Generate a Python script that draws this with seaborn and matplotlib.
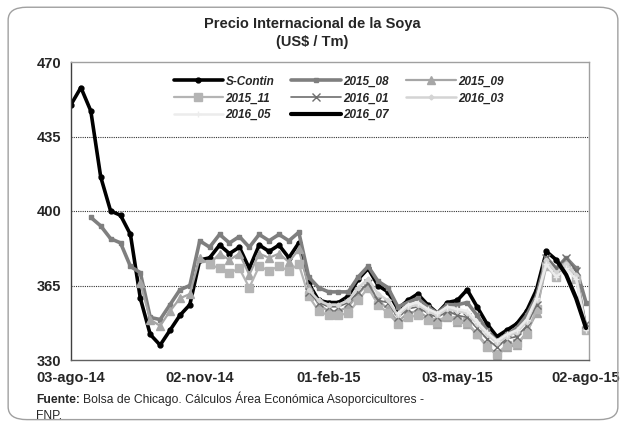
import numpy as np
import pandas as pd
import matplotlib
matplotlib.use("Agg")
import matplotlib.pyplot as plt
import seaborn as sns
from matplotlib.patches import FancyBboxPatch

sns.set_theme(style="white")
plt.rcParams['font.family'] = ['Liberation Sans', 'DejaVu Sans']

nan = np.nan
weeks = list(range(53))
tick_weeks = [0, 13, 26, 39, 52]
tick_labels = ["03-ago-14", "02-nov-14", "01-feb-15", "03-may-15", "02-ago-15"]

s_contin = [450, 458, 447, 416, 400, 398, 389, 359, 342, 337, 344, 351, 356,
            377, 378, 384, 380, 383, 373, 384, 381, 384, 378, 385, 366,
            358, 357, 357, 360, 368, 373, 365, 362, 354, 358, 361, 356, 352,
            357, 358, 363, 355, 347, 341, 344, 347, 353, 363, 381, 377,
            nan, nan, nan]
c2015_08 = [nan, nan, 397, 393, 387, 385, 374, 371, 350, 349, 356, 363, 365,
            386, 383, 389, 385, 388, 383, 389, 386, 389, 386, 390, 369,
            364, 362, 362, 362, 369, 374, 367, 364, 355, 357, 359, 355, 352,
            356, 356, 357, 351, 344, 339, 342, 345, 351, 360, 378, 373,
            378, 373, 357]
c2015_09 = [nan] * 7 + [366, 349, 346, 353, 359, 361,
            378, 375, 380, 377, 380, 370, 380, 378, 380, 376, 382, 364,
            356, 353, 353, 355, 361, 366, 358, 354, 348, 352, 353, 350, 347,
            350, 348, 347, 342, 337, 332, 336, 337, 343, 352, 376, 371,
            376, 369, 346]
c2015_11 = [nan] * 14 + [375, 373, 371, 373, 364, 374, 372, 374, 372, 375, 360,
            353, 351, 351, 352, 358, 364, 356, 352, 347, 350, 351, 349, 348,
            351, 349, 348, 342, 336, 333, 337, 338, 342, 354, 374, 369,
            374, 368, 344]
c2016_01 = [nan] * 24 + [362, 357, 355, 355, 357, 362, 366, 358, 357, 350, 354,
            355, 352, 350, 353, 351, 350, 345, 340, 336, 340, 341, 346, 356,
            378, 373, 378, 372, 347]
c2016_03 = [nan] * 24 + [363, 358, 356, 356, 358, 364, 368, 361, 358, 351, 355,
            356, 353, 351, 354, 353, 352, 347, 342, 338, 341, 343, 348, 358,
            377, 371, 375, 370, 345]
c2016_05 = [nan] * 33 + [352, 356, 357, 354, 352, 355, 354, 353, 348, 343, 339,
            342, 344, 349, 359, 375, 369, 373, 368, 344]
c2016_07 = [nan] * 49 + [377, 370, 359, 345]

series = [
    ("S-Contin", s_contin, dict(color="black", lw=2.6, marker="o", ms=3.5, mec="black")),
    ("2015_08", c2015_08, dict(color="#7f7f7f", lw=2.6, marker="s", ms=3, mec="#7f7f7f")),
    ("2015_09", c2015_09, dict(color="#a6a6a6", lw=1.6, marker="^", ms=6, mec="#a6a6a6")),
    ("2015_11", c2015_11, dict(color="#b4b4b4", lw=1.6, marker="s", ms=6, mec="#b4b4b4")),
    ("2016_01", c2016_01, dict(color="#6e6e6e", lw=1.2, marker="x", ms=6, mec="#6e6e6e")),
    ("2016_03", c2016_03, dict(color="#d4d4d4", lw=1.8, marker="D", ms=2.5, mec="#d4d4d4")),
    ("2016_05", c2016_05, dict(color="#ececec", lw=1.8, marker="+", ms=5, mec="#ececec")),
    ("2016_07", c2016_07, dict(color="black", lw=3.0, marker=None)),
]

fig = plt.figure(figsize=(6.26, 4.26), dpi=100)
fig.patch.set_facecolor("white")
border = FancyBboxPatch((0.013, 0.015), 0.974, 0.968, boxstyle="round,pad=0,rounding_size=0.03",
                        transform=fig.transFigure, fill=False, edgecolor="#a0a0a0", lw=1.0)
fig.patches.append(border)

ax = fig.add_axes([71 / 626, 66 / 426, 518 / 626, 298 / 426])

for name, vals, st in series:
    df = pd.DataFrame({"week": weeks, "value": vals}).dropna()
    kw = dict(st)
    lw = kw.pop("lw")
    sns.lineplot(data=df, x="week", y="value", ax=ax, label=name, linewidth=lw,
                 markeredgewidth=1.0, **kw)

ax.set_xlim(0, 52.3)
ax.set_ylim(330, 470)
ax.set_yticks([330, 365, 400, 435, 470])
ax.set_xticks(tick_weeks)
ax.set_xticklabels(tick_labels)
ax.set_xlabel("")
ax.set_ylabel("")
for y in [365, 400, 435]:
    ax.axhline(y, color="#333333", lw=0.8, ls=(0, (1, 1)), zorder=0)

for lab in ax.get_xticklabels() + ax.get_yticklabels():
    lab.set_fontweight("bold")
    lab.set_fontsize(10.5)
ax.tick_params(axis="both", which="major", direction="out", length=4, width=1,
               color="#404040", pad=3)
ax.tick_params(axis="x", pad=4)
ax.spines["left"].set_color("#404040")
ax.spines["bottom"].set_color("#606060")
ax.spines["top"].set_color("#a0a0a0")
ax.spines["right"].set_color("#a0a0a0")
for sp in ax.spines.values():
    sp.set_linewidth(1.0)

handles, labels = ax.get_legend_handles_labels()
order = ["S-Contin", "2015_11", "2016_05", "2015_08", "2016_01", "2016_07", "2015_09", "2016_03"]
hmap = dict(zip(labels, handles))
leg = ax.legend([hmap[k] for k in order], order, loc="upper left",
                bbox_to_anchor=(92 / 518, 0.99), ncol=3, frameon=False,
                handlelength=4.2, handletextpad=0.2, columnspacing=1.45, labelspacing=0.4,
                prop={"weight": "bold", "style": "italic", "size": 8.5})

fig.text(0.4985, 0.944, "Precio Internacional de la Soya", ha="center", va="center",
         fontsize=10.5, fontweight="bold")
fig.text(0.4985, 0.901, "(US$ / Tm)", ha="center", va="center",
         fontsize=10.5, fontweight="bold")

y1 = 1 - 403 / 426
y2 = 1 - 419 / 426
t1 = fig.text(36 / 626, y1, "Fuente:", ha="left", va="baseline", fontsize=8.7,
              fontweight="bold")
fig.canvas.draw()
bb = t1.get_window_extent(renderer=fig.canvas.get_renderer())
x_after = (bb.x1 + 3) / fig.bbox.width
fig.text(x_after, y1, "Bolsa de Chicago. Cálculos Área Económica Asoporcicultores -",
         ha="left", va="baseline", fontsize=8.7)
fig.text(36 / 626, y2, "FNP.", ha="left", va="baseline", fontsize=8.7)

fig.savefig("out.png", dpi=100)
